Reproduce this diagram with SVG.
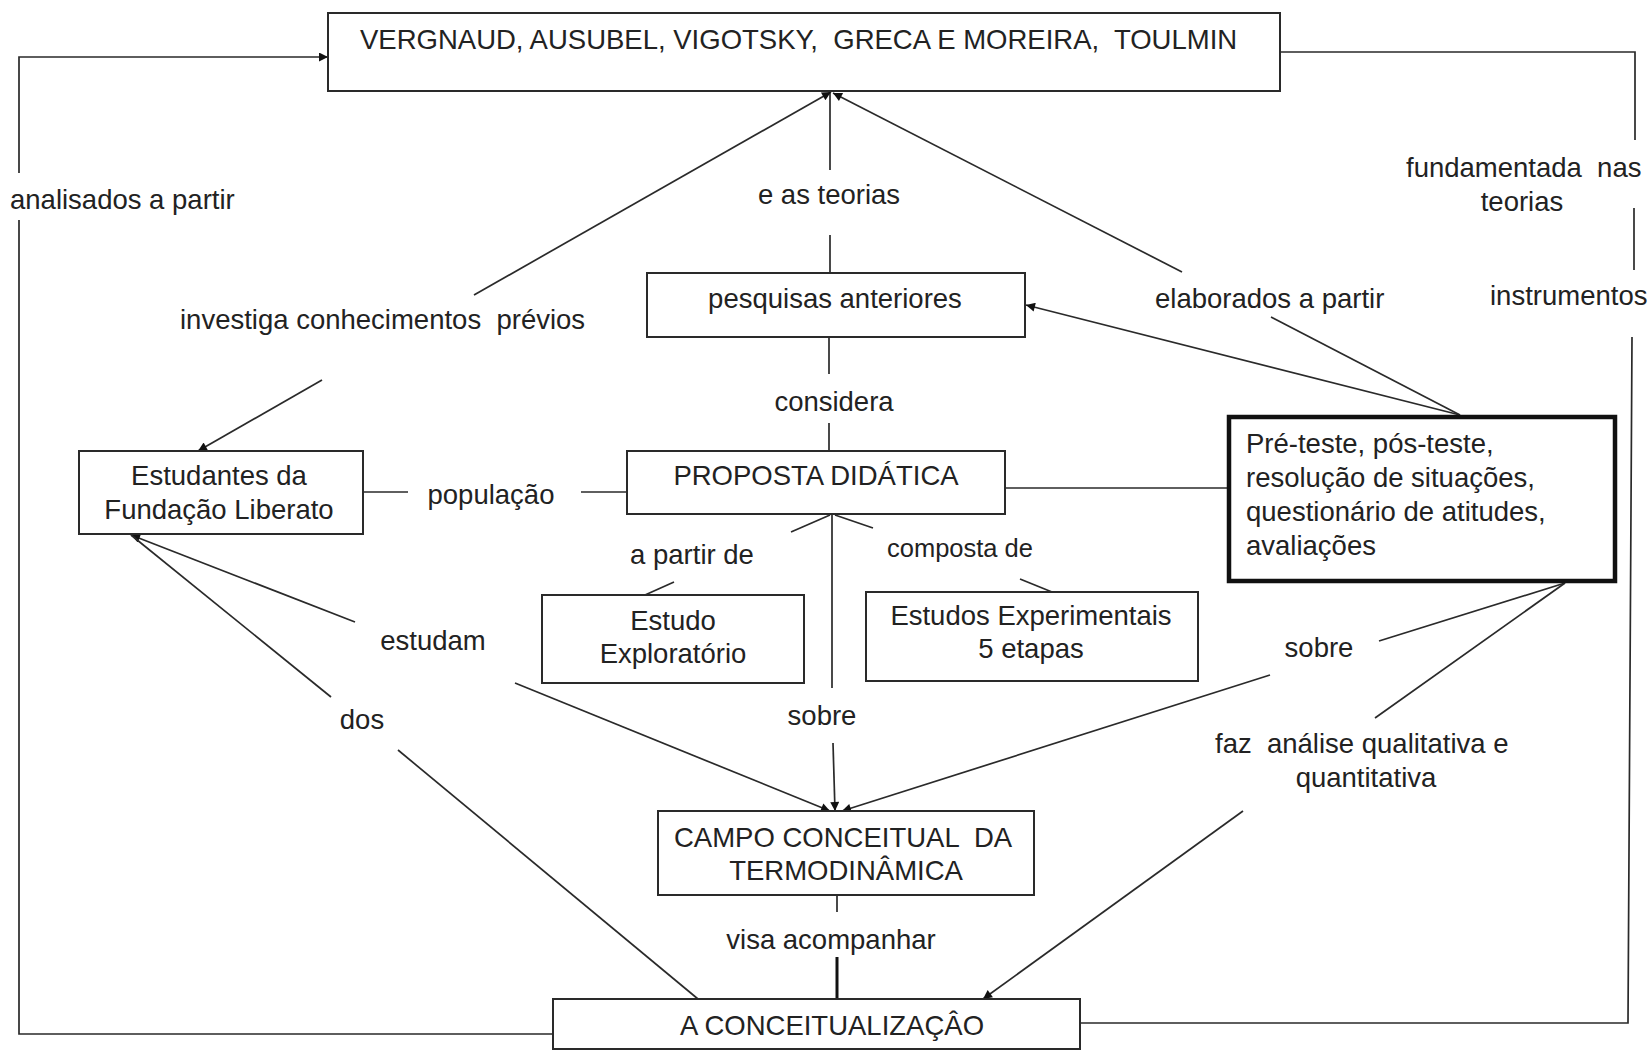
<svg xmlns="http://www.w3.org/2000/svg" width="1650" height="1051" viewBox="0 0 1650 1051">
  <style>
    .bg { fill: #ffffff; }
    .box { fill: #ffffff; stroke: #2a2a2a; stroke-width: 2; }
    .bold { fill: #ffffff; stroke: #111111; stroke-width: 4.5; }
    .ln { fill: none; stroke: #2a2a2a; stroke-width: 1.7; }
    .heavy { stroke-width: 3; stroke: #111111; }
    text { font-family: "Liberation Sans", Arial, sans-serif; font-size: 27.5px; fill: #222222; }
    .m { text-anchor: middle; }
  </style>
  <defs>
    <marker id="arr" viewBox="0 0 10 10" refX="10" refY="5" markerUnits="userSpaceOnUse" markerWidth="13" markerHeight="9" orient="auto">
      <path d="M0,0 L10,5 L0,10 z" fill="#111111"/>
    </marker>
  </defs>

  <rect class="bg" x="0" y="0" width="1650" height="1051"/>

  <!-- connectors -->
  <g id="connectors">
    <!-- analisados a partir (left loop) -->
    <polyline class="ln" points="553,1034 19,1034 19,220"/>
    <polyline class="ln" points="19,173 19,57 328,57" marker-end="url(#arr)"/>
    <!-- instrumentos / fundamentada nas teorias (right loop) -->
    <polyline class="ln" points="1280,52 1635,52 1635,140"/>
    <line class="ln" x1="1634" y1="208" x2="1634" y2="270"/>
    <polyline class="ln" points="1632,337 1628,1023 1080,1023"/>
    <!-- e as teorias -->
    <line class="ln" x1="830" y1="170" x2="830" y2="85"/>
    <line class="ln" x1="830" y1="235" x2="830" y2="273"/>
    <!-- investiga conhecimentos previos -->
    <line class="ln" x1="474" y1="295" x2="831" y2="92" marker-end="url(#arr)"/>
    <line class="ln" x1="322" y1="380" x2="198" y2="451" marker-end="url(#arr)"/>
    <!-- elaborados a partir -->
    <line class="ln" x1="1182" y1="272" x2="833" y2="93" marker-end="url(#arr)"/>
    <line class="ln" x1="1460" y1="415" x2="1271" y2="317"/>
    <!-- instruments to pesquisas anteriores -->
    <line class="ln" x1="1460" y1="415" x2="1026" y2="305" marker-end="url(#arr)"/>
    <!-- considera -->
    <line class="ln" x1="829" y1="337" x2="829" y2="374"/>
    <line class="ln" x1="829" y1="423" x2="829" y2="451"/>
    <!-- populacao -->
    <line class="ln" x1="363" y1="492" x2="408" y2="492"/>
    <line class="ln" x1="581" y1="492" x2="627" y2="492"/>
    <!-- proposta to instruments -->
    <line class="ln" x1="1005" y1="488" x2="1227" y2="488"/>
    <!-- a partir de -->
    <line class="ln" x1="830" y1="515" x2="791" y2="532"/>
    <line class="ln" x1="674" y1="582" x2="645" y2="595"/>
    <!-- composta de -->
    <line class="ln" x1="835" y1="515" x2="873" y2="528"/>
    <line class="ln" x1="1020" y1="579" x2="1052" y2="592"/>
    <!-- sobre (proposta to campo) -->
    <line class="ln" x1="832" y1="514" x2="832" y2="688"/>
    <line class="ln" x1="833" y1="743" x2="835" y2="811" marker-end="url(#arr)"/>
    <!-- estudam -->
    <line class="ln" x1="355" y1="622" x2="131" y2="535" marker-end="url(#arr)"/>
    <line class="ln" x1="515" y1="683" x2="830" y2="811" marker-end="url(#arr)"/>
    <!-- dos -->
    <line class="ln" x1="331" y1="697" x2="131" y2="535"/>
    <line class="ln" x1="398" y1="750" x2="698" y2="999"/>
    <!-- sobre (instruments to campo) -->
    <line class="ln" x1="1565" y1="583" x2="1379" y2="641"/>
    <line class="ln" x1="1270" y1="675" x2="842" y2="811" marker-end="url(#arr)"/>
    <!-- faz analise qualitativa e quantitativa -->
    <line class="ln" x1="1565" y1="583" x2="1375" y2="718"/>
    <line class="ln" x1="1243" y1="811" x2="983" y2="999" marker-end="url(#arr)"/>
    <!-- visa acompanhar -->
    <line class="ln" x1="837" y1="895" x2="837" y2="912"/>
    <line class="ln heavy" x1="837" y1="957" x2="837" y2="999"/>
  </g>

  <!-- link labels -->
  <g id="labels">
    <text x="10" y="209">analisados a partir</text>
    <text class="m" x="829" y="204">e as teorias</text>
    <text x="180" y="329" xml:space="preserve">investiga conhecimentos  prévios</text>
    <text x="1155" y="308">elaborados a partir</text>
    <text x="1406" y="177" xml:space="preserve">fundamentada  nas</text>
    <text class="m" x="1522" y="211">teorias</text>
    <text x="1490" y="305">instrumentos</text>
    <text class="m" x="834" y="411">considera</text>
    <text class="m" x="491" y="504">população</text>
    <text class="m" x="692" y="564">a partir de</text>
    <text class="m" x="960" y="557" style="font-size:25.5px">composta de</text>
    <text class="m" x="433" y="650">estudam</text>
    <text class="m" x="362" y="729">dos</text>
    <text class="m" x="822" y="725">sobre</text>
    <text class="m" x="1319" y="657">sobre</text>
    <text x="1215" y="753" xml:space="preserve">faz  análise qualitativa e</text>
    <text class="m" x="1366" y="787">quantitativa</text>
    <text class="m" x="831" y="949">visa acompanhar</text>
  </g>

  <!-- concept nodes -->
  <g id="teorias">
    <rect class="box" x="328" y="13" width="952" height="78"/>
    <text x="360" y="49" xml:space="preserve">VERGNAUD, AUSUBEL, VIGOTSKY,  GRECA E MOREIRA,  TOULMIN</text>
  </g>
  <g id="pesquisas">
    <rect class="box" x="647" y="273" width="378" height="64"/>
    <text class="m" x="835" y="308">pesquisas anteriores</text>
  </g>
  <g id="proposta">
    <rect class="box" x="627" y="451" width="378" height="63"/>
    <text class="m" x="816" y="485">PROPOSTA DIDÁTICA</text>
  </g>
  <g id="estudantes">
    <rect class="box" x="79" y="451" width="284" height="83"/>
    <text class="m" x="219" y="485">Estudantes da</text>
    <text class="m" x="219" y="519">Fundação Liberato</text>
  </g>
  <g id="instrumentos">
    <rect class="bold" x="1229" y="417" width="386" height="164"/>
    <text x="1246" y="453">Pré-teste, pós-teste,</text>
    <text x="1246" y="487">resolução de situações,</text>
    <text x="1246" y="521">questionário de atitudes,</text>
    <text x="1246" y="555">avaliações</text>
  </g>
  <g id="exploratorio">
    <rect class="box" x="542" y="595" width="262" height="88"/>
    <text class="m" x="673" y="630">Estudo</text>
    <text class="m" x="673" y="663">Exploratório</text>
  </g>
  <g id="experimentais">
    <rect class="box" x="866" y="592" width="332" height="89"/>
    <text class="m" x="1031" y="625">Estudos Experimentais</text>
    <text class="m" x="1031" y="658">5 etapas</text>
  </g>
  <g id="campo">
    <rect class="box" x="658" y="811" width="376" height="84"/>
    <text x="674" y="847" xml:space="preserve">CAMPO CONCEITUAL  DA</text>
    <text class="m" x="846" y="880">TERMODINÂMICA</text>
  </g>
  <g id="conceitualizacao">
    <rect class="box" x="553" y="999" width="527" height="50"/>
    <text class="m" x="832" y="1035">A CONCEITUALIZAÇÂO</text>
  </g>
</svg>
